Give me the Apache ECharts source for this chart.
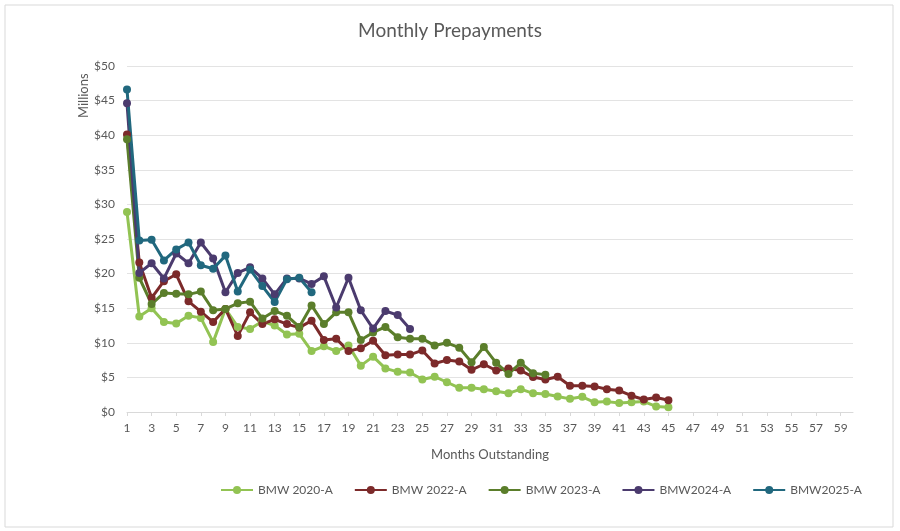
<!DOCTYPE html>
<html><head><meta charset="utf-8">
<script src="https://cdn.jsdelivr.net/npm/echarts@6/dist/echarts.min.js"></script>
<style>html,body{margin:0;padding:0;background:#fff}#c{width:900px;height:531px}</style>
</head><body><div id="c"></div>
<script>
const months = Array.from({length: 60}, (_, i) => String(i + 1));
const bmw2020A = [28.9,13.8,15.0,13.0,12.8,13.9,13.6,10.1,14.9,12.3,12.0,13.1,12.5,11.2,11.3,8.8,9.5,8.8,9.6,6.7,8.0,6.3,5.8,5.7,4.7,5.1,4.3,3.5,3.5,3.3,3.0,2.7,3.3,2.7,2.6,2.25,1.9,2.2,1.4,1.5,1.3,1.4,1.5,0.8,0.7];
const bmw2022A = [40.1,21.6,16.5,18.9,19.9,16.0,14.5,13.0,14.9,11.0,14.4,12.7,13.4,12.7,12.2,13.2,10.4,10.6,8.8,9.2,10.3,8.2,8.3,8.3,8.9,7.0,7.5,7.3,6.1,6.9,6.0,6.3,6.0,5.05,4.7,5.1,3.8,3.8,3.7,3.3,3.1,2.35,1.8,2.1,1.7];
const bmw2023A = [39.4,19.4,15.6,17.2,17.1,17.0,17.4,14.7,14.9,15.7,15.95,13.5,14.6,13.9,12.3,15.4,12.7,14.4,14.4,10.4,11.5,12.3,10.8,10.6,10.6,9.6,10.0,9.3,7.2,9.4,7.1,5.5,7.1,5.6,5.4];
const bmw2024A = [44.6,20.1,21.5,19.3,22.9,21.5,24.5,22.2,17.3,20.1,20.9,19.3,17.0,19.3,19.3,18.5,19.6,15.1,19.4,14.7,12.05,14.6,14.0,12.0];
const bmw2025A = [46.6,24.8,24.9,21.9,23.5,24.5,21.2,20.7,22.6,17.4,20.6,18.2,15.9,19.2,19.4,17.3];
const yTicks = [0,5,10,15,20,25,30,35,40,45,50];

const seriesDefs = [
  {name: 'BMW 2020-A', data: bmw2020A, color: '#92c353'},
  {name: 'BMW 2022-A', data: bmw2022A, color: '#7c2a2a'},
  {name: 'BMW 2023-A', data: bmw2023A, color: '#5b7e2b'},
  {name: 'BMW2024-A', data: bmw2024A, color: '#4b3b6e'},
  {name: 'BMW2025-A', data: bmw2025A, color: '#21687e'}
];
const font = 'Lato, "Open Sans", sans-serif';
const chart = echarts.init(document.getElementById('c'));
chart.setOption({
  animation: false,
  backgroundColor: '#fff',
  title: {text: 'Monthly Prepayments', left: 'center', top: 16,
    textStyle: {fontFamily: font, fontSize: 19, fontWeight: 'normal', color: '#595959'}},
  graphic: [
    {type: 'rect', shape: {x: 5, y: 5, width: 888, height: 522}, style: {fill: 'none', stroke: '#d9d9d9', lineWidth: 1}, silent: true},
    {type: 'text', x: 77, y: 118, rotation: Math.PI / 2, style: {text: 'Millions', fontFamily: font, fontSize: 13, fill: '#595959', textAlign: 'left', textVerticalAlign: 'top'}}
  ],
  grid: {left: 127, right: 47, top: 66, bottom: 119, containLabel: false},
  legend: {top: 479, left: 215, itemGap: 21, itemWidth: 32, itemHeight: 10,
    textStyle: {fontFamily: font, fontSize: 12, color: '#595959'},
    data: seriesDefs.map(s => s.name)},
  xAxis: {type: 'category', data: months, boundaryGap: false,
    name: 'Months Outstanding', nameLocation: 'middle', nameGap: 36,
    nameTextStyle: {fontFamily: font, fontSize: 13, color: '#595959'},
    axisLine: {lineStyle: {color: '#d9d9d9'}},
    axisTick: {show: true, interval: 1, length: 4, lineStyle: {color: '#d9d9d9'}},
    axisLabel: {interval: 1, fontFamily: font, fontSize: 12, color: '#595959', margin: 10}},
  yAxis: {type: 'value', min: 0, max: 50, interval: 5,
    axisLine: {show: false}, axisTick: {show: false},
    splitLine: {lineStyle: {color: '#e3e3e3'}},
    axisLabel: {fontFamily: font, fontSize: 12, color: '#595959', margin: 12,
      formatter: v => yTicks.includes(v) ? '$' + v : ''}},
  series: seriesDefs.map(s => ({
    name: s.name, type: 'line', data: s.data, color: s.color,
    symbol: 'circle', symbolSize: 8, showSymbol: true,
    lineStyle: {width: 3, color: s.color}, itemStyle: {color: s.color}
  }))
});
</script></body></html>
